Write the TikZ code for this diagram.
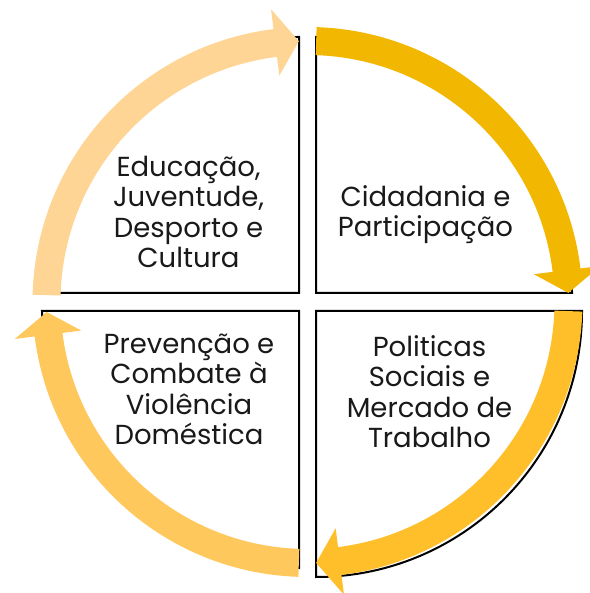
\documentclass[tikz,border=0pt]{standalone}
\usepackage{fontspec}
\setmainfont{Poppins}
\definecolor{cTL}{HTML}{FFD596}
\definecolor{cTR}{HTML}{F2B700}
\definecolor{cBR}{HTML}{FFBF2B}
\definecolor{cBL}{HTML}{FFC85C}
\tikzset{
  quad/.style={draw=black, line width=2pt, fill=white, line join=miter},
  lbl/.style={align=center, font=\fontsize{27.5}{30.5}\selectfont, text=black!90, inner sep=0pt, anchor=base},
}
\newcommand{\circarrow}[4]{%
  \fill[#1] ([shift={(C)}]#2:247) arc[start angle=#2, end angle=#3, radius=247]
    -- ([shift={(C)}]#3:228) -- ([shift={(C)}]#4:261) -- ([shift={(C)}]#3:295)
    -- ([shift={(C)}]#3:275) arc[start angle=#3, end angle=#2, radius=275] -- cycle;}
\begin{document}
\begin{tikzpicture}[x=1pt,y=1pt]
\useasboundingbox (0,0) rectangle (589,593);
\coordinate (C) at (307.5,291);
% quadrant shapes
\coordinate (qTL) at (299,300);
\coordinate (qTR) at (316,300);
\coordinate (qBR) at (316,282);
\coordinate (qBL) at (299,282);
\draw[quad] (qTL) -- ++(0,256) arc[start angle=90, end angle=180, radius=256] -- cycle;
\draw[quad] (qTR) -- ++(0,256) arc[start angle=90, end angle=0, radius=256] -- cycle;
\draw[quad] (qBR) -- ++(266,0) arc[start angle=0, end angle=-90, radius=266] -- cycle;
\draw[quad] (qBL) -- ++(-257,0) arc[start angle=180, end angle=270, radius=257] -- cycle;
% arrows
\circarrow{cTL}{178.5}{97.1}{91.9}
\circarrow{cTR}{88.1}{7}{2}
\circarrow{cBR}{-2}{-82.9}{-88.1}
\circarrow{cBL}{268.1}{187.2}{182.2}
% labels (anchor = baseline of last line)
\node[lbl] (tTL) at (188.5,325) {Educação,\\Juventude,\\Desporto e\\Cultura};
\node[lbl] (tTR) at (425.5,356) {Cidadania e\\Participação};
\node[lbl] (tBR) at (429.5,145) {Politicas\\Sociais e\\Mercado de\\Trabalho};
\node[lbl] (tBL) at (189,148) {Prevenção e\\Combate à\\Violência\\Doméstica};
\end{tikzpicture}
\end{document}
